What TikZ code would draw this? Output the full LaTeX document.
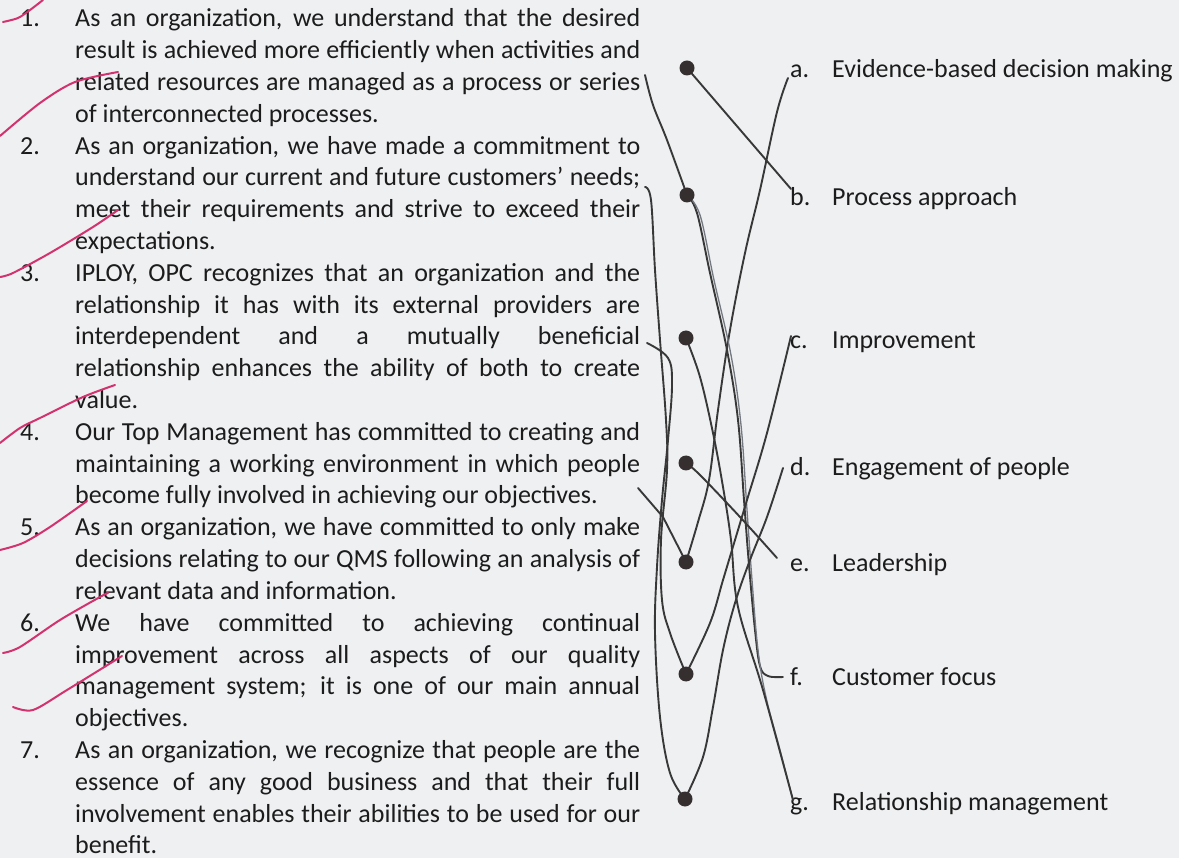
\documentclass[tikz,border=0pt]{standalone}
\usepackage{fontspec}
\setmainfont{Carlito}
\definecolor{paper}{HTML}{EEF0F2}
\definecolor{ink}{HTML}{1C1C1C}
\definecolor{pen}{HTML}{383838}
\definecolor{penlight}{HTML}{747880}
\definecolor{dotc}{HTML}{362F30}
\definecolor{redc}{HTML}{D2336E}
\newcommand\jl[1]{\makebox[565pt][s]{#1}}
\begin{document}
\begin{tikzpicture}[x=1pt,y=-1pt,
  txt/.style={anchor=base west,inner sep=0pt,font=\fontsize{26}{31.8}\selectfont,text=ink},
  dot/.style={circle,fill=dotc,minimum size=15pt,inner sep=0pt},
  pencil/.style={draw=pen,line width=1.9pt,line cap=round,line join=round},
  pencilfaint/.style={draw=penlight,line width=1.3pt,line cap=round,line join=round},
  redmark/.style={draw=redc,line width=2pt,line cap=round,line join=round}]
\fill[paper] (0,0) rectangle (1179,858);
\useasboundingbox (0,0) rectangle (1179,858);

% numbers
\node[txt] (n1) at (20,27) {1.};
\node[txt] (n2) at (20,154.2) {2.};
\node[txt] (n3) at (20,281.4) {3.};
\node[txt] (n4) at (20,440.4) {4.};
\node[txt] (n5) at (20,535.8) {5.};
\node[txt] (n6) at (20,631.2) {6.};
\node[txt] (n7) at (20,758.4) {7.};

% statements
\node[txt] (l1) at (75,27) {\jl{As an organization, we understand that the desired}};
\node[txt] (l2) at (75,58.8) {\jl{result is achieved more efficiently when activities and}};
\node[txt] (l3) at (75,90.6) {\jl{related resources are managed as a process or series}};
\node[txt] (l4) at (75,122.4) {of interconnected processes.};
\node[txt] (l5) at (75,154.2) {\jl{As an organization, we have made a commitment to}};
\node[txt] (l6) at (75,186) {\jl{understand our current and future customers’ needs;}};
\node[txt] (l7) at (75,217.8) {\jl{meet their requirements and strive to exceed their}};
\node[txt] (l8) at (75,249.6) {expectations.};
\node[txt] (l9) at (75,281.4) {\jl{IPLOY, OPC recognizes that an organization and the}};
\node[txt] (l10) at (75,313.2) {\jl{relationship it has with its external providers are}};
\node[txt] (l11) at (75,345) {\jl{interdependent and a mutually beneficial}};
\node[txt] (l12) at (75,376.8) {\jl{relationship enhances the ability of both to create}};
\node[txt] (l13) at (75,408.6) {value.};
\node[txt] (l14) at (75,440.4) {\jl{Our Top Management has committed to creating and}};
\node[txt] (l15) at (75,472.2) {\jl{maintaining a working environment in which people}};
\node[txt] (l16) at (75,504) {become fully involved in achieving our objectives.};
\node[txt] (l17) at (75,535.8) {\jl{As an organization, we have committed to only make}};
\node[txt] (l18) at (75,567.6) {\jl{decisions relating to our QMS following an analysis of}};
\node[txt] (l19) at (75,599.4) {relevant data and information.};
\node[txt] (l20) at (75,631.2) {\jl{We have committed to achieving continual}};
\node[txt] (l21) at (75,663) {\jl{improvement across all aspects of our quality}};
\node[txt] (l22) at (75,694.8) {\jl{management system; it is one of our main annual}};
\node[txt] (l23) at (75,726.6) {objectives.};
\node[txt] (l24) at (75,758.4) {\jl{As an organization, we recognize that people are the}};
\node[txt] (l25) at (75,790.2) {\jl{essence of any good business and that their full}};
\node[txt] (l26) at (75,822) {\jl{involvement enables their abilities to be used for our}};
\node[txt] (l27) at (75,853.8) {benefit.};

% answers
\node[txt] (la) at (790,78) {a.};
\node[txt] (ta) at (832,78) {Evidence-based decision making};
\node[txt] (lb) at (790,206) {b.};
\node[txt] (tb) at (832,206) {Process approach};
\node[txt] (lc) at (790,349) {c.};
\node[txt] (tc) at (832,349) {Improvement};
\node[txt] (ld) at (790,476) {d.};
\node[txt] (td) at (832,476) {Engagement of people};
\node[txt] (le) at (790,572) {e.};
\node[txt] (te) at (832,572) {Leadership};
\node[txt] (lf) at (790,685) {f.};
\node[txt] (tf) at (832,685) {Customer focus};
\node[txt] (lg) at (790,810) {g.};
\node[txt] (tg) at (832,810) {Relationship management};

% line end points
\coordinate (s1) at (645,75);
\coordinate (s2) at (645,187);
\coordinate (s3) at (647,343);
\coordinate (s4) at (638,488);
\coordinate (ea) at (788,78);
\coordinate (eb) at (791,189);
\coordinate (ec) at (791,336);
\coordinate (ed) at (783,468);
\coordinate (ee) at (777,558);
\coordinate (ef) at (783,677);
\coordinate (eg) at (793,800);

% dots (positions)
\coordinate (p1) at (687,68);
\coordinate (p2) at (687,195);
\coordinate (p3) at (686,338);
\coordinate (p4) at (686,463);
\coordinate (p5) at (686,562);
\coordinate (p6) at (686,674);
\coordinate (p7) at (685,799);

% pencil connectors
\draw[pencil] (p1) -- (eb);
\draw[pencil] plot[smooth,tension=0.6] coordinates {(ea) (777,112) (760,190) (745,253) (730,330) (718,410) (709,480) (698,522) (p5)};
\draw[pencil] plot[smooth,tension=0.6] coordinates {(s1) (653,105) (667,140) (p2)};
\draw[pencil] plot[smooth,tension=0.6] coordinates {(p2) (697,213) (710,273) (727,350) (738,420) (744,500) (749,565) (755,630) (760,666) (768,676) (ef)};
\draw[pencilfaint] plot[smooth,tension=0.6] coordinates {(p2) (700,215) (714,280) (731,355) (741,425) (747,510) (752,580) (758,650) (766,697) (780,750) (eg)};
\draw[pencil] plot[smooth,tension=0.6] coordinates {(p3) (700,377) (713,433) (723,487) (731,540) (738,607) (763,690) (eg)};
\draw[pencil] plot[smooth,tension=0.6] coordinates {(ec) (767,433) (747,500) (735,540) (723,580) (710,623) (p6)};
\draw[pencil] plot[smooth,tension=0.6] coordinates {(ed) (767,517) (750,560) (735,603) (723,650) (713,707) (703,757) (p7)};
\draw[pencil] plot[smooth,tension=0.6] coordinates {(p4) (700,475) (740,517) (ee)};
\draw[pencil] plot[smooth,tension=0.6] coordinates {(s2) (651,200) (655,270) (660,340) (666,420) (667,470) (661,540) (662,600) (670,633) (p6)};
\draw[pencil] plot[smooth,tension=0.6] coordinates {(s3) (668,358) (672,385) (668,440) (662,500) (657,567) (655,633) (660,717) (670,773) (p7)};
\draw[pencil] (s4) -- (663,517) -- (p5);

\node[dot] (d1) at (p1) {};
\node[dot] (d2) at (p2) {};
\node[dot] (d3) at (p3) {};
\node[dot] (d4) at (p4) {};
\node[dot] (d5) at (p5) {};
\node[dot] (d6) at (p6) {};
\node[dot] (d7) at (p7) {};

% red check marks
\draw[redmark] plot[smooth,tension=0.5] coordinates {(3,22) (18,18) (30,10) (43,0)};
\draw[redmark] plot[smooth,tension=0.5] coordinates {(0,136) (40,103) (75,82) (118,72)};
\draw[redmark] plot[smooth,tension=0.5] coordinates {(0,277) (13,273) (50,253) (93,227) (118,210)};
\draw[redmark] plot[smooth,tension=0.5] coordinates {(0,443) (20,428) (40,418) (83,397) (115,385)};
\draw[redmark] plot[smooth,tension=0.5] coordinates {(0,550) (23,543) (50,527) (87,501)};
\draw[redmark] plot[smooth,tension=0.5] coordinates {(3,653) (20,647) (60,620) (100,597) (108,593)};
\draw[redmark] plot[smooth,tension=0.5] coordinates {(13,707) (33,710) (67,690) (122,656)};
\end{tikzpicture}
\end{document}
